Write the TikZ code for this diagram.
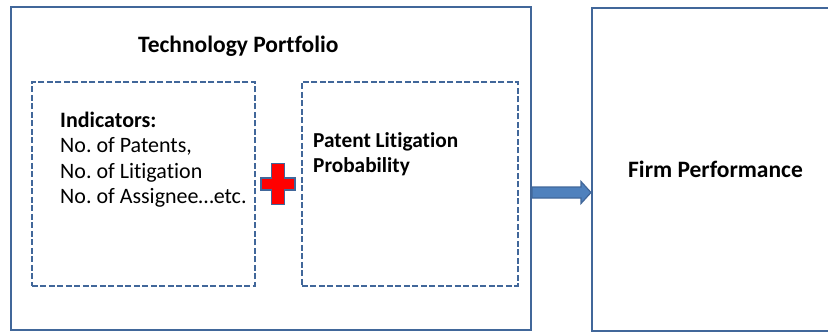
\documentclass[tikz,border=0pt]{standalone}
\usepackage{fontspec}
\setmainfont{Carlito}[Ligatures=NoCommon]
\usetikzlibrary{calc}
\definecolor{frameblue}{HTML}{41679A}
\definecolor{arrowfill}{HTML}{4F81BD}
\definecolor{crossred}{HTML}{FF0000}
\tikzset{
  panel/.style={draw=frameblue, line width=2.2pt, inner sep=0pt},
  subpanel/.style={draw=frameblue, line width=1.8pt, dash pattern=on 6pt off 2.5pt, inner sep=0pt},
  heading/.style={font=\bfseries\fontsize{23.5}{26}\selectfont, inner sep=0pt, anchor=base west},
  body/.style={font=\fontsize{22}{25.5}\selectfont, align=left, inner sep=0pt, anchor=base west},
}
\begin{document}
\frenchspacing
\begin{tikzpicture}[x=1pt,y=-1pt]
\useasboundingbox (0,0) rectangle (828,332);
\fill[white] (0,0) rectangle (828,332);
\begin{scope}
\clip (0,0) rectangle (828,332);
% outer frame of the portfolio and the performance panel
\node[panel, minimum width=520pt, minimum height=323pt] (tp) at (271,168.5) {};
\node[panel, minimum width=260pt, minimum height=323pt, anchor=north west] (fp) at (591,7) {};
\end{scope}
\node[heading] (tptitle) at (138,52) {Technology Portfolio};
% inner dashed panels
\node[subpanel, minimum width=223pt, minimum height=204pt, anchor=north west] (ind) at (31,81) {};
\node[subpanel, minimum width=216pt, minimum height=204pt, anchor=north west] (plp) at (301,81) {};
% multi-line texts are placed by the baseline of their last line
\node[body] (indtext) at (60,203.5) {\textbf{Indicators:}\\No. of Patents,\\No. of Litigation\\No. of Assignee\ldots etc.};
\node[body, font=\bfseries\fontsize{21.3}{25}\selectfont] (plptext) at (313,172) {Patent Litigation\\Probability};
\node[heading] (fptitle) at (628,177) {Firm Performance};
% red plus between the panels
\path (278,184) coordinate (pc);
\draw[frameblue, fill=crossred, line width=1.6pt, line join=miter]
  ($(pc)+(-6.5,-20.5)$) -- ($(pc)+(6.5,-20.5)$) -- ($(pc)+(6.5,-6)$) -- ($(pc)+(17,-6)$)
  -- ($(pc)+(17,6)$) -- ($(pc)+(6.5,6)$) -- ($(pc)+(6.5,20.5)$) -- ($(pc)+(-6.5,20.5)$)
  -- ($(pc)+(-6.5,6)$) -- ($(pc)+(-17,6)$) -- ($(pc)+(-17,-6)$) -- ($(pc)+(-6.5,-6)$) -- cycle;
% block arrow from portfolio to performance
\path (tp.east |- 0,192.5) coordinate (aS);
\path (fp.west |- 0,192.5) coordinate (aE);
\draw[frameblue, fill=arrowfill, line width=1.2pt, line join=miter]
  ($(aS)+(0,-5.5)$) -- ($(aE)+(-10,-5.5)$) -- ($(aE)+(-10,-11)$) -- (aE)
  -- ($(aE)+(-10,11)$) -- ($(aE)+(-10,5.5)$) -- ($(aS)+(0,5.5)$) -- cycle;
\end{tikzpicture}
\end{document}
